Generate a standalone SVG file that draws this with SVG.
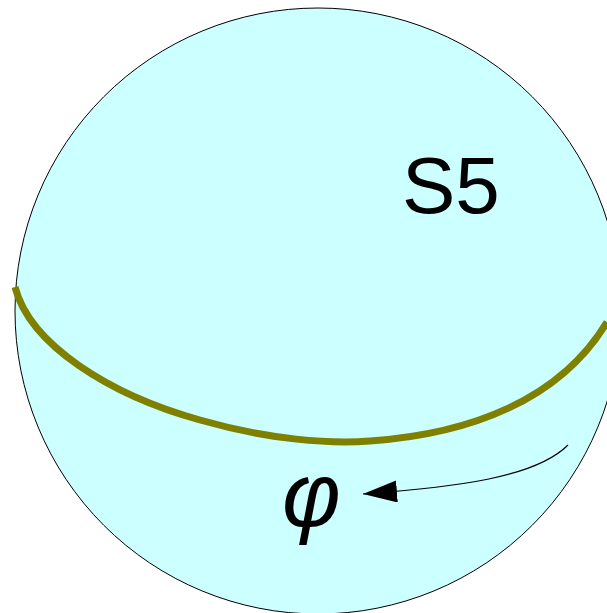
<svg xmlns="http://www.w3.org/2000/svg" width="607" height="613" viewBox="0 0 607 613">
<defs>
<style>
.sphere{fill:#ccffff;stroke:#000;stroke-width:1}
.equator{fill:none;stroke:#808000;stroke-width:7}
.conn{fill:none;stroke:#000;stroke-width:1.2}
.lbl{font-family:"Liberation Sans",Arial,sans-serif;fill:#000}
</style>
<marker id="ah" markerUnits="userSpaceOnUse" markerWidth="36" markerHeight="24" refX="34" refY="11" orient="auto">
<path d="M0,0 L34,11 L0,22 Z" fill="#000"/>
</marker>
</defs>
<g id="sphere">
<circle class="sphere" cx="318" cy="311" r="303"/>
<text class="lbl" x="402" y="213" font-size="80">S5</text>
</g>
<g id="equator">
<path class="equator" d="M15,287 C30,345 110,395 200,420 C270,440 330,444 370,441 C470,434 560,400 607,322"/>
</g>
<g id="phi">
<text class="lbl" x="282" y="526" font-size="90" font-style="italic">φ</text>
</g>
<g id="connectors">
<path class="conn" d="M568,445 C535,478 455,487 363,494" marker-end="url(#ah)"/>
</g>
</svg>
